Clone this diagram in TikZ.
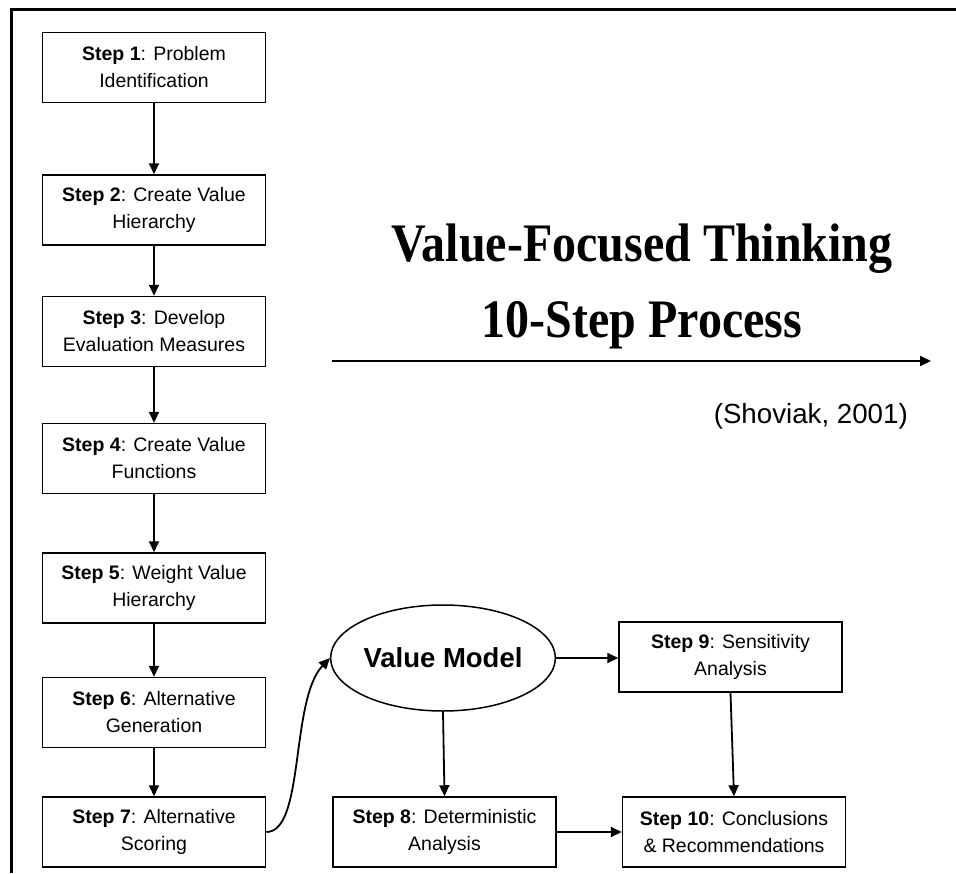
\documentclass[tikz,border=0pt]{standalone}
\usepackage{fontspec}
\setmainfont{Liberation Sans}
\newfontfamily\titlefont{Liberation Serif}
\usepackage{graphicx}
\usetikzlibrary{arrows.meta,shapes.geometric}
\begin{document}
\begin{tikzpicture}[x=1pt,y=-1pt,
  stepbox/.style={draw,line width=1.5pt,minimum width=223pt,minimum height=70pt,
    align=center,font=\fontsize{19.5}{27}\selectfont,inner sep=0pt},
  conn/.style={line width=1.8pt,-{Triangle[length=11pt,width=10pt]}},
  frameline/.style={line width=3pt}]
\useasboundingbox (0,0) rectangle (956,873);
\coordinate (f0) at (11,873);
\coordinate (f1) at (11,9.5);
\coordinate (f2) at (956,9.5);
\draw[frameline] (f0) -- (f1) -- (f2);

\node[stepbox] (s1) at (154,67.5) {\textbf{Step 1}: Problem\\Identification};
\node[stepbox] (s2) at (154,210) {\textbf{Step 2}: Create Value\\Hierarchy};
\node[stepbox] (s3) at (154,331.5) {\textbf{Step 3}: Develop\\Evaluation Measures};
\node[stepbox] (s4) at (154,458.5) {\textbf{Step 4}: Create Value\\Functions};
\node[stepbox] (s5) at (154,588) {\textbf{Step 5}: Weight Value\\Hierarchy};
\node[stepbox] (s6) at (154,712.5) {\textbf{Step 6}: Alternative\\Generation};
\node[stepbox] (s7) at (154,832) {\textbf{Step 7}: Alternative\\Scoring};

\node[draw,ellipse,line width=1.5pt,minimum width=223pt,minimum height=106pt,inner sep=0pt,
  font=\bfseries\fontsize{27.5}{33}\selectfont] (vm) at (443,658) {Value Model};
\node[stepbox] (s8) at (444.5,832) {\textbf{Step 8}: Deterministic\\Analysis};
\node[stepbox] (s9) at (730.5,657) {\textbf{Step 9}: Sensitivity\\Analysis};
\node[stepbox] (s10) at (734,832) {\textbf{Step 10}: Conclusions\\\& Recommendations};

\draw[conn] (s1) -- (s2);
\draw[conn] (s2) -- (s3);
\draw[conn] (s3) -- (s4);
\draw[conn] (s4) -- (s5);
\draw[conn] (s5) -- (s6);
\draw[conn] (s6) -- (s7);
\draw[conn] (s7.east) .. controls (305,832) and (290,700) .. (vm.west);
\draw[conn] (vm.east) -- (s9.west |- vm.east);
\draw[conn] (vm.south) -- (s8.north);
\draw[conn] (s9.south) -- (s10.north);
\draw[conn] (s8.east) -- (s10.west);

\node[anchor=base,inner sep=0pt,font=\titlefont\bfseries\fontsize{48}{58}\selectfont] (t1) at (642,261)
  {\scalebox{1}[1.13]{Value-Focused Thinking}};
\node[anchor=base,inner sep=0pt,font=\titlefont\bfseries\fontsize{48}{58}\selectfont] (t2) at (642,337)
  {\scalebox{1}[1.13]{10-Step Process}};
\coordinate (a0) at (332,361);
\coordinate (a1) at (931,361);
\draw[conn] (a0) -- (a1);
\node[anchor=base east,inner sep=0pt,font=\fontsize{27.7}{33}\selectfont] (cite) at (908,423) {(Shoviak, 2001)};
\end{tikzpicture}
\end{document}
